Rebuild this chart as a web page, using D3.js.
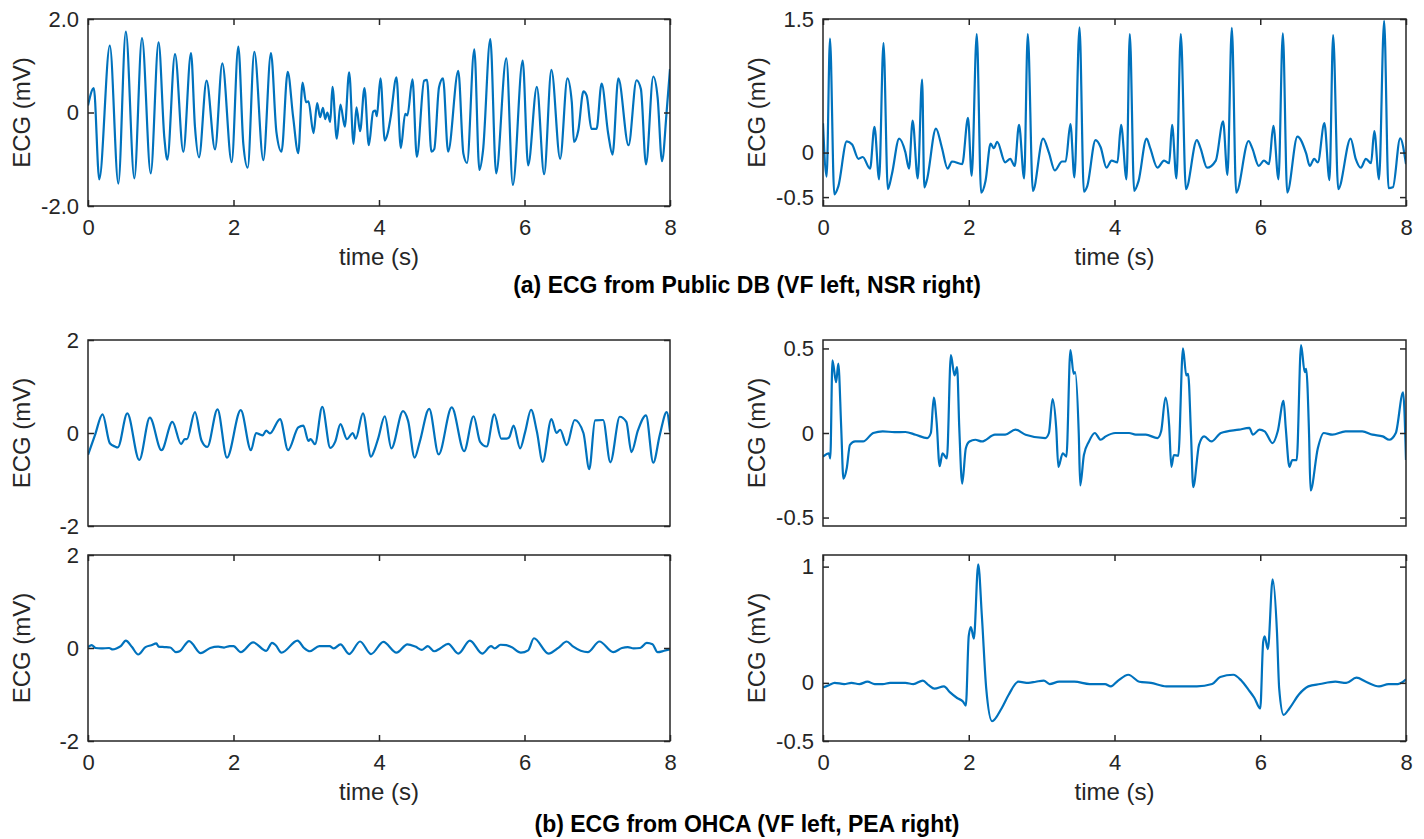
<!DOCTYPE html>
<html>
<head>
<meta charset="utf-8">
<script src="https://cdn.jsdelivr.net/npm/d3@7"></script>
<style>
  body { margin: 0; background: #fff; }
  svg text { font-family: "Helvetica Neue", Helvetica, "Liberation Sans", Arial, sans-serif; }
</style>
</head>
<body>
<svg id="chart" width="1424" height="839"></svg>
<script>
// ---- data: [time (s), ECG (mV)] ----
const timeTicks = [0, 2, 4, 6, 8];

// (a) public database, ventricular fibrillation
const publicVf = [[0,0.15],[0.08,0.52],[0.155,-1.43],[0.30,1.43],[0.417,-1.52],[0.52,1.73],[0.637,-1.41],[0.742,1.59],[0.862,-1.30],[0.97,1.50],[1.05,-0.55],[1.09,-1.01],[1.196,1.25],[1.31,-0.84],[1.416,1.27],[1.47,-0.3],[1.526,-0.96],[1.63,0.68],[1.746,-0.79],[1.846,1.05],[1.975,-1.06],[2.066,1.41],[2.135,-0.67],[2.195,-1.18],[2.286,1.30],[2.41,-1.02],[2.515,1.27],[2.59,-0.42],[2.66,-0.84],[2.745,0.87],[2.82,-0.10],[2.89,-0.87],[2.95,0.64],[2.997,0.22],[3.03,0.24],[3.10,-0.44],[3.15,0.20],[3.19,-0.10],[3.23,0.10],[3.26,-0.14],[3.29,0.0],[3.33,-0.20],[3.36,0.55],[3.42,-0.56],[3.47,0.17],[3.53,-0.30],[3.59,0.86],[3.65,-0.67],[3.69,0.11],[3.74,-0.40],[3.80,0.52],[3.86,-0.70],[3.92,0.02],[3.95,0.04],[3.97,-0.08],[4.02,0.73],[4.08,-0.60],[4.12,-0.44],[4.16,-0.1],[4.24,0.75],[4.30,-0.76],[4.36,-0.03],[4.39,-0.06],[4.46,0.71],[4.52,-0.95],[4.62,0.68],[4.66,0.70],[4.72,-0.84],[4.76,-0.78],[4.825,0.54],[4.88,0.73],[4.95,-0.84],[5.09,0.89],[5.16,-0.88],[5.21,-1.08],[5.31,1.35],[5.38,-1.23],[5.43,-0.81],[5.53,1.57],[5.61,-1.30],[5.75,1.16],[5.84,-1.55],[5.975,1.11],[6.05,-1.13],[6.17,0.55],[6.27,-1.32],[6.37,0.91],[6.49,-0.99],[6.59,0.73],[6.65,0.22],[6.68,-0.63],[6.74,-0.38],[6.81,0.45],[6.855,0.36],[6.92,-0.35],[6.99,-0.35],[7.06,0.62],[7.15,-0.45],[7.21,-0.90],[7.29,0.73],[7.43,-0.70],[7.54,0.69],[7.60,0.50],[7.67,-1.11],[7.77,0.77],[7.83,0.32],[7.89,-1.04],[7.955,0.04],[8.0,0.93]];

// (a) public database, normal sinus rhythm
const publicNsr = [[0,0.33],[0.05,-0.27],[0.096,1.28],[0.155,-0.47],[0.21,-0.38],[0.326,0.126],[0.40,0.09],[0.486,-0.07],[0.545,-0.05],[0.646,-0.18],[0.706,0.29],[0.77,-0.30],[0.83,1.23],[0.89,-0.41],[0.946,-0.24],[1.045,0.157],[1.13,0.005],[1.18,-0.18],[1.23,0.36],[1.30,-0.29],[1.36,0.82],[1.39,-0.39],[1.425,-0.31],[1.55,0.27],[1.63,0.06],[1.71,-0.18],[1.77,-0.10],[1.91,-0.13],[1.99,0.39],[2.04,-0.26],[2.11,1.33],[2.17,-0.45],[2.23,-0.32],[2.30,0.10],[2.345,0.05],[2.39,0.12],[2.50,-0.11],[2.57,-0.07],[2.63,-0.15],[2.69,0.31],[2.76,-0.29],[2.81,1.33],[2.88,-0.43],[3.02,0.157],[3.10,0.0],[3.18,-0.20],[3.28,-0.10],[3.33,-0.10],[3.395,0.32],[3.45,-0.28],[3.52,1.405],[3.58,-0.44],[3.625,-0.38],[3.74,0.14],[3.81,0.06],[3.89,-0.17],[3.96,-0.09],[4.04,-0.11],[4.09,0.31],[4.165,-0.30],[4.21,1.33],[4.27,-0.43],[4.33,-0.32],[4.44,0.157],[4.49,0.05],[4.59,-0.17],[4.68,-0.09],[4.75,-0.12],[4.79,0.31],[4.85,-0.29],[4.91,1.33],[4.98,-0.41],[5.13,0.14],[5.18,0.05],[5.27,-0.17],[5.39,-0.09],[5.49,0.35],[5.55,-0.25],[5.61,1.40],[5.67,-0.45],[5.84,0.13],[5.89,0.05],[5.98,-0.15],[6.05,-0.09],[6.12,-0.13],[6.18,0.30],[6.25,-0.30],[6.31,1.34],[6.37,-0.45],[6.51,0.18],[6.63,-0.01],[6.68,-0.15],[6.74,-0.07],[6.79,-0.11],[6.88,0.33],[6.95,-0.31],[7.00,1.32],[7.07,-0.41],[7.24,0.157],[7.31,-0.07],[7.38,-0.17],[7.45,-0.07],[7.52,-0.12],[7.565,0.24],[7.63,-0.30],[7.70,1.48],[7.76,-0.40],[7.82,-0.39],[7.92,0.16],[8.0,-0.13]];

// (b) out-of-hospital cardiac arrest, ventricular fibrillation (upper trace)
const ohcaVfUpper = [[0,-0.47],[0.097,-0.04],[0.20,0.40],[0.30,-0.22],[0.37,-0.29],[0.41,-0.31],[0.54,0.42],[0.705,-0.58],[0.85,0.33],[1.01,-0.37],[1.16,0.24],[1.28,-0.24],[1.33,-0.13],[1.36,-0.13],[1.47,0.45],[1.56,-0.16],[1.64,-0.30],[1.78,0.51],[1.91,-0.53],[2.10,0.49],[2.24,-0.37],[2.31,0.0],[2.36,-0.03],[2.40,-0.05],[2.45,0.05],[2.50,-0.01],[2.64,0.30],[2.75,-0.37],[2.89,0.12],[2.96,0.16],[3.03,-0.17],[3.06,-0.13],[3.12,-0.24],[3.22,0.56],[3.33,-0.32],[3.40,-0.18],[3.47,0.19],[3.56,-0.13],[3.64,0.0],[3.68,-0.12],[3.78,0.42],[3.89,-0.51],[3.945,-0.33],[3.99,-0.11],[4.08,0.36],[4.17,-0.33],[4.33,0.47],[4.40,0.26],[4.49,-0.53],[4.56,-0.19],[4.69,0.52],[4.82,-0.46],[5.00,0.55],[5.17,-0.39],[5.30,0.36],[5.39,-0.19],[5.48,-0.29],[5.585,0.40],[5.68,-0.12],[5.755,-0.12],[5.79,-0.09],[5.85,0.16],[5.94,-0.33],[6.01,0.03],[6.09,0.50],[6.17,0.03],[6.25,-0.62],[6.37,0.30],[6.44,0.0],[6.49,0.07],[6.58,-0.26],[6.69,0.28],[6.81,0.0],[6.89,-0.78],[6.97,0.27],[7.08,0.28],[7.18,-0.63],[7.31,0.35],[7.40,0.24],[7.47,-0.41],[7.56,0.06],[7.67,0.38],[7.77,-0.64],[7.86,-0.04],[7.955,0.45],[8.0,0.03]];

// (b) out-of-hospital cardiac arrest, ventricular fibrillation (lower trace)
const ohcaVfLower = [[0,0.02],[0.05,0.06],[0.105,0.0],[0.18,-0.01],[0.29,0.0],[0.34,-0.03],[0.39,-0.01],[0.45,0.04],[0.52,0.16],[0.605,0.02],[0.69,-0.14],[0.79,0.02],[0.87,0.06],[0.94,0.10],[0.97,0.03],[1.05,0.02],[1.13,0.01],[1.21,-0.09],[1.26,-0.07],[1.39,0.15],[1.55,-0.11],[1.68,0.0],[1.79,0.03],[1.87,0.01],[1.95,0.04],[2.0,0.04],[2.1,-0.09],[2.27,0.12],[2.45,-0.06],[2.53,0.11],[2.58,0.06],[2.66,-0.10],[2.88,0.16],[2.97,0.0],[3.05,-0.07],[3.18,0.04],[3.32,0.04],[3.38,-0.01],[3.47,0.08],[3.59,-0.13],[3.74,0.14],[3.89,-0.13],[4.06,0.13],[4.24,-0.10],[4.39,0.08],[4.50,0.03],[4.59,-0.04],[4.67,0.04],[4.76,-0.07],[4.84,-0.01],[4.95,0.09],[5.09,-0.12],[5.25,0.16],[5.42,-0.12],[5.54,0.04],[5.59,-0.01],[5.67,0.07],[5.75,0.06],[5.82,0.02],[5.95,-0.10],[6.05,-0.05],[6.13,0.21],[6.33,-0.12],[6.47,0.01],[6.58,0.14],[6.66,0.04],[6.87,-0.09],[7.03,0.14],[7.22,-0.09],[7.34,0.0],[7.42,0.02],[7.50,-0.01],[7.59,0.0],[7.68,0.11],[7.76,0.08],[7.83,-0.09],[7.92,-0.06],[8.0,-0.03]];

// (b) out-of-hospital cardiac arrest, pulseless electrical activity (upper trace)
const ohcaPeaUpper = [[0,-0.14],[0.08,-0.12],[0.10,-0.15],[0.13,0.43],[0.18,0.30],[0.21,0.41],[0.25,0.03],[0.28,-0.27],[0.325,-0.21],[0.37,-0.07],[0.44,-0.05],[0.55,-0.05],[0.69,0.0],[0.82,0.01],[0.98,0.005],[1.13,0.006],[1.27,-0.01],[1.43,-0.03],[1.48,0.0],[1.52,0.21],[1.56,0.06],[1.60,-0.196],[1.64,-0.12],[1.70,-0.15],[1.755,0.46],[1.805,0.34],[1.84,0.39],[1.87,0.03],[1.91,-0.30],[1.96,-0.09],[2.01,-0.05],[2.09,-0.04],[2.18,-0.05],[2.36,-0.01],[2.50,-0.01],[2.64,0.02],[2.78,-0.01],[3.05,-0.03],[3.10,0.0],[3.15,0.20],[3.20,0.03],[3.23,-0.20],[3.29,-0.12],[3.34,-0.14],[3.395,0.49],[3.44,0.35],[3.46,0.36],[3.51,-0.01],[3.53,-0.31],[3.58,-0.13],[3.65,-0.05],[3.73,0.0],[3.81,-0.04],[3.88,-0.02],[4.01,0.0],[4.20,0.0],[4.29,-0.01],[4.43,-0.01],[4.59,-0.03],[4.64,0.01],[4.70,0.21],[4.75,0.045],[4.78,-0.20],[4.815,-0.13],[4.875,-0.135],[4.94,0.50],[4.985,0.34],[5.01,0.35],[5.05,-0.01],[5.08,-0.32],[5.16,-0.07],[5.23,-0.02],[5.33,-0.05],[5.46,0.0],[5.71,0.02],[5.85,0.03],[5.90,-0.01],[5.99,0.02],[6.06,0.01],[6.17,-0.06],[6.24,0.01],[6.32,0.19],[6.35,0.03],[6.40,-0.20],[6.44,-0.16],[6.50,-0.16],[6.56,0.52],[6.61,0.36],[6.63,0.38],[6.67,-0.01],[6.69,-0.34],[6.79,-0.09],[6.87,0.0],[6.99,-0.01],[7.17,0.01],[7.40,0.01],[7.54,-0.01],[7.68,-0.02],[7.77,-0.04],[7.86,0.0],[7.96,0.24],[8.0,-0.16]];

// (b) out-of-hospital cardiac arrest, pulseless electrical activity (lower trace)
const ohcaPeaLower = [[0,-0.04],[0.08,-0.02],[0.16,0.0],[0.29,-0.01],[0.39,0.0],[0.50,-0.01],[0.61,0.01],[0.71,-0.01],[0.82,-0.01],[0.92,0.0],[1.13,0.0],[1.24,-0.01],[1.37,0.02],[1.45,-0.02],[1.53,-0.05],[1.66,-0.03],[1.74,-0.08],[1.84,-0.13],[1.92,-0.16],[1.96,-0.195],[2.0,0.405],[2.03,0.48],[2.07,0.38],[2.13,1.02],[2.18,0.575],[2.24,-0.05],[2.32,-0.33],[2.45,-0.22],[2.55,-0.10],[2.68,0.01],[2.82,0.0],[2.92,0.01],[3.03,0.02],[3.11,-0.01],[3.24,0.01],[3.45,0.01],[3.66,-0.01],[3.87,-0.01],[3.95,-0.03],[4.05,0.02],[4.19,0.07],[4.34,0.01],[4.50,0.0],[4.71,-0.03],[4.92,-0.03],[5.13,-0.03],[5.34,-0.01],[5.45,0.05],[5.63,0.07],[5.74,0.02],[5.84,-0.06],[5.92,-0.13],[6.0,-0.22],[6.04,0.35],[6.06,0.40],[6.105,0.29],[6.17,0.89],[6.23,0.43],[6.26,-0.05],[6.32,-0.275],[6.40,-0.22],[6.53,-0.10],[6.66,-0.03],[6.82,-0.01],[7.03,0.01],[7.18,0.0],[7.32,0.045],[7.45,0.01],[7.63,-0.03],[7.76,-0.01],[7.89,-0.01],[8.0,0.03]];

// y-axis ticks and their printed labels
const publicVfTicks = [-2, 0, 2],        publicVfLabels = ["-2.0", "0", "2.0"];
const publicNsrTicks = [-0.5, 0, 1.5],   publicNsrLabels = ["-0.5", "0", "1.5"];
const ohcaVfTicks = [-2, 0, 2],          ohcaVfLabels = ["-2", "0", "2"];
const ohcaPeaUpperTicks = [-0.5, 0, 0.5], ohcaPeaUpperLabels = ["-0.5", "0", "0.5"];
const ohcaPeaLowerTicks = [-0.5, 0, 1],  ohcaPeaLowerLabels = ["-0.5", "0", "1"];

const titles = ["(a) ECG from Public DB (VF left, NSR right)", "(b) ECG from OHCA (VF left, PEA right)"];

// ---- layout ----
const svg = d3.select("#chart");
const INK = "#262626";
const LINE = "#0072BD";
const LEFT = [88, 670], RIGHT = [823, 1406];
const TICK_FONT = 22, LABEL_FONT = 24, TITLE_FONT = 23;

const panels = [
  { data: publicVf,     xr: LEFT,  yr: [206, 19],  yDomain: [-2, 2],       ticks: publicVfTicks,     labels: publicVfLabels,     showX: true,  labelX: 22 },
  { data: publicNsr,    xr: RIGHT, yr: [206, 19],  yDomain: [-0.6, 1.5],   ticks: publicNsrTicks,    labels: publicNsrLabels,    showX: true,  labelX: 757 },
  { data: ohcaVfUpper,  xr: LEFT,  yr: [526, 340], yDomain: [-2, 2],       ticks: ohcaVfTicks,       labels: ohcaVfLabels,       showX: false, labelX: 22 },
  { data: ohcaPeaUpper, xr: RIGHT, yr: [526, 340], yDomain: [-0.55, 0.55], ticks: ohcaPeaUpperTicks, labels: ohcaPeaUpperLabels, showX: false, labelX: 757 },
  { data: ohcaVfLower,  xr: LEFT,  yr: [741, 555], yDomain: [-2, 2],       ticks: ohcaVfTicks,       labels: ohcaVfLabels,       showX: true,  labelX: 22 },
  { data: ohcaPeaLower, xr: RIGHT, yr: [741, 555], yDomain: [-0.5, 1.1],   ticks: ohcaPeaLowerTicks, labels: ohcaPeaLowerLabels, showX: true,  labelX: 757 }
];

function styleAxis(g, withText) {
  g.select(".domain").remove();
  g.selectAll(".tick line").attr("stroke", INK).attr("stroke-width", 1.5);
  g.selectAll(".tick text").attr("fill", INK).attr("font-size", TICK_FONT);
  if (!withText) g.selectAll(".tick text").remove();
}

panels.forEach((p, i) => {
  const x = d3.scaleLinear().domain([0, 8]).range(p.xr);
  const y = d3.scaleLinear().domain(p.yDomain).range(p.yr);
  const g = svg.append("g");
  const clipId = "clip" + i;

  g.append("clipPath").attr("id", clipId).append("rect")
    .attr("x", p.xr[0]).attr("y", p.yr[1])
    .attr("width", p.xr[1] - p.xr[0]).attr("height", p.yr[0] - p.yr[1]);

  g.append("path")
    .datum(p.data)
    .attr("clip-path", `url(#${clipId})`)
    .attr("fill", "none")
    .attr("stroke", LINE)
    .attr("stroke-width", 2.2)
    .attr("stroke-linejoin", "round")
    .attr("d", d3.line().x(d => x(d[0])).y(d => y(d[1])).curve(d3.curveMonotoneX));

  // y axes (labels on the left, mirrored ticks on the right)
  g.append("g").attr("transform", `translate(${p.xr[0]},0)`)
    .call(d3.axisLeft(y).tickValues(p.ticks).tickFormat((d, k) => p.labels[k]).tickSizeInner(-6).tickSizeOuter(0).tickPadding(9))
    .call(a => styleAxis(a, true));
  g.append("g").attr("transform", `translate(${p.xr[1]},0)`)
    .call(d3.axisRight(y).tickValues(p.ticks).tickSizeInner(-6).tickSizeOuter(0))
    .call(a => styleAxis(a, false));

  if (p.showX) {
    g.append("g").attr("transform", `translate(0,${p.yr[0]})`)
      .call(d3.axisBottom(x).tickValues(timeTicks).tickFormat(d3.format("d")).tickSizeInner(-6).tickSizeOuter(0).tickPadding(13))
      .call(a => styleAxis(a, true));
    g.append("g").attr("transform", `translate(0,${p.yr[1]})`)
      .call(d3.axisTop(x).tickValues(timeTicks).tickSizeInner(-6).tickSizeOuter(0))
      .call(a => styleAxis(a, false));
    g.append("text")
      .attr("x", (p.xr[0] + p.xr[1]) / 2).attr("y", p.yr[0] + 51)
      .attr("dy", "0.35em").attr("text-anchor", "middle")
      .attr("fill", INK).attr("font-size", LABEL_FONT)
      .text("time (s)");
  }

  g.append("rect")
    .attr("x", p.xr[0]).attr("y", p.yr[1])
    .attr("width", p.xr[1] - p.xr[0]).attr("height", p.yr[0] - p.yr[1])
    .attr("fill", "none").attr("stroke", INK).attr("stroke-width", 1.5);

  g.append("text")
    .attr("transform", `translate(${p.labelX},${(p.yr[0] + p.yr[1]) / 2}) rotate(-90)`)
    .attr("dy", "0.35em").attr("text-anchor", "middle")
    .attr("fill", INK).attr("font-size", LABEL_FONT)
    .text("ECG (mV)");
});

[[285, titles[0]], [824, titles[1]]].forEach(([yy, t]) => {
  svg.append("text")
    .attr("x", 747).attr("y", yy).attr("dy", "0.35em")
    .attr("text-anchor", "middle").attr("font-weight", "bold")
    .attr("font-size", TITLE_FONT).attr("fill", "#000")
    .text(t);
});
</script>
</body>
</html>
